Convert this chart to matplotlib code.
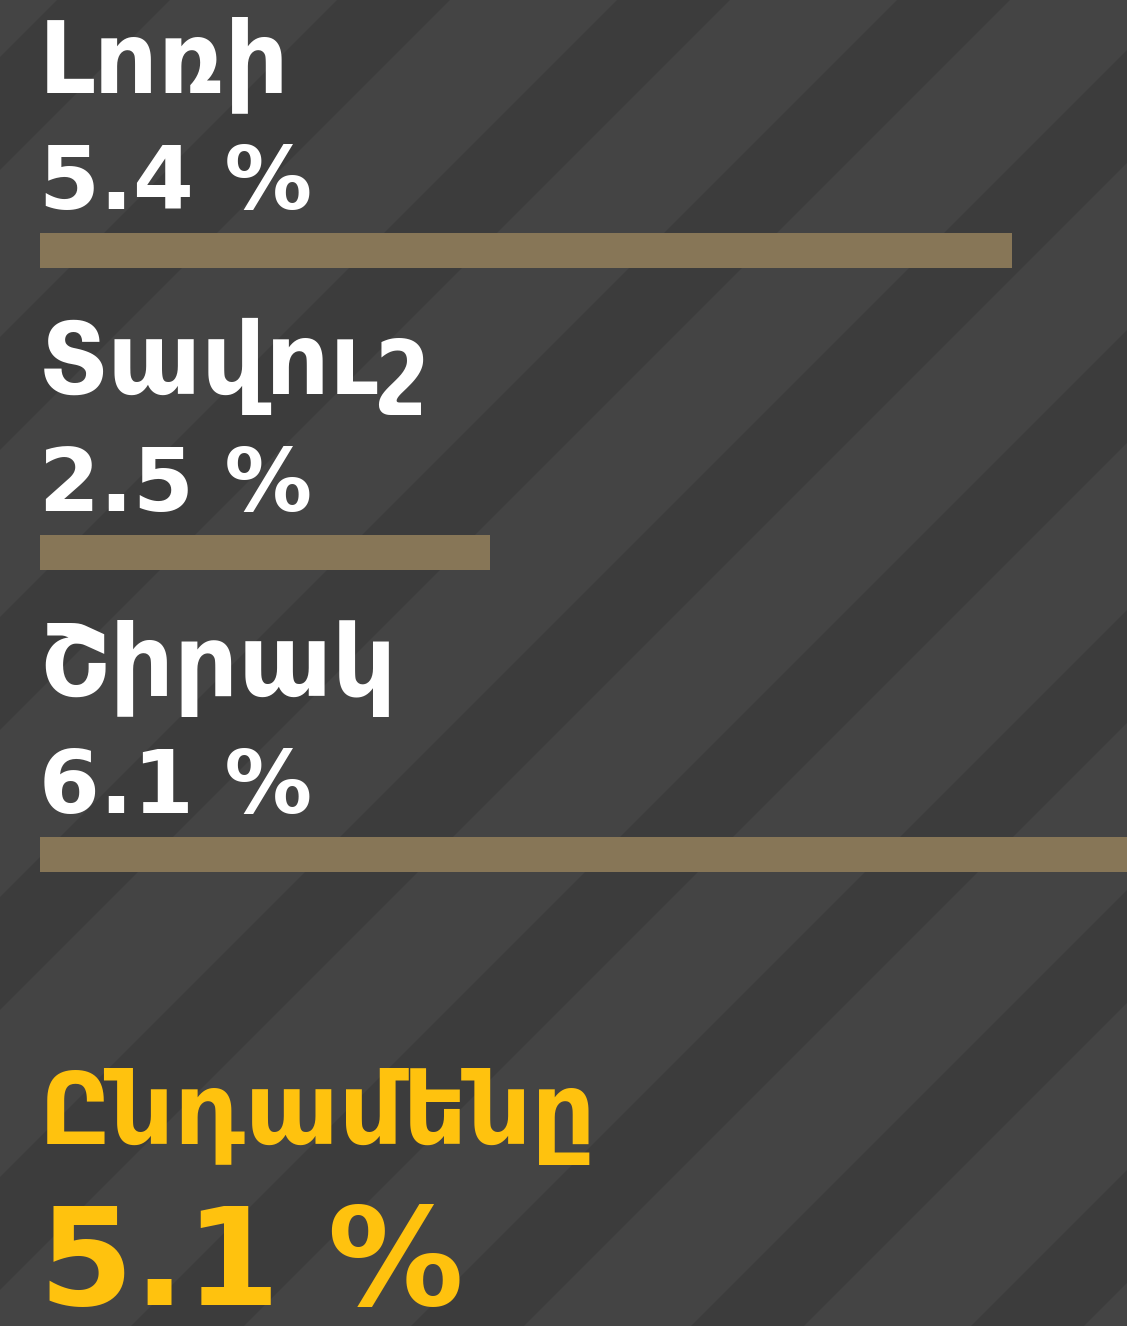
import matplotlib
matplotlib.use('Agg')
import matplotlib.pyplot as plt

# data
regions = ['Լոռի', 'Տավուշ', 'Շիրակ']
values = [5.4, 2.5, 6.1]
value_labels = ['5.4 %', '2.5 %', '6.1 %']
total_label = 'Ընդամենը'
total_value = '5.1 %'

W, H = 1127, 1326
BG_DARK = '#3c3c3c'
BG_LIGHT = '#444444'
BAR = '#877657'
YELLOW = '#ffc20e'

plt.rcParams['font.family'] = ['DejaVu Sans']

fig = plt.figure(figsize=(W / 100, H / 100), dpi=100)
fig.patch.set_facecolor(BG_DARK)

# background with diagonal stripes (pixel coords)
bg = fig.add_axes([0, 0, 1, 1])
bg.set_xlim(0, W)
bg.set_ylim(H, 0)
bg.axis('off')
bg.set_facecolor(BG_DARK)
period, light_w = 280, 167
for c in range(1010 - 280 * 5, W + H + 280, period):
    c2 = c + light_w
    ys = [-10, H + 10]
    poly = [(c - ys[0], ys[0]), (c2 - ys[0], ys[0]),
            (c2 - ys[1], ys[1]), (c - ys[1], ys[1])]
    bg.add_patch(plt.Polygon(poly, closed=True, color=BG_LIGHT, lw=0))

# chart axes: x in percent (180 px per unit, zero at 40 px), y in pixels
ax = fig.add_axes([0, 0, 1, 1])
ax.patch.set_alpha(0)
ax.set_xlim(-40 / 180, (W - 40) / 180)
ax.set_ylim(H, 0)
ax.axis('off')

bar_y = [250.5, 552.5, 854.5]
name_y = [92, 394, 696]
val_y = [209, 511, 813]

ax.barh(bar_y, values, height=35, left=0, color=BAR)

x0 = -0.005
for name, lab, ny, vy in zip(regions, value_labels, name_y, val_y):
    ax.text(x0, ny, name, color='white', fontsize=72, fontweight='bold',
            va='baseline', ha='left')
    ax.text(x0, vy, lab, color='white', fontsize=63, fontweight='bold',
            va='baseline', ha='left')

ax.text(x0, 1144, total_label, color=YELLOW, fontsize=72, fontweight='bold',
        va='baseline', ha='left')
ax.text(x0, 1305, total_value, color=YELLOW, fontsize=98, fontweight='bold',
        va='baseline', ha='left')

fig.savefig('out.png', dpi=100, facecolor=BG_DARK)
